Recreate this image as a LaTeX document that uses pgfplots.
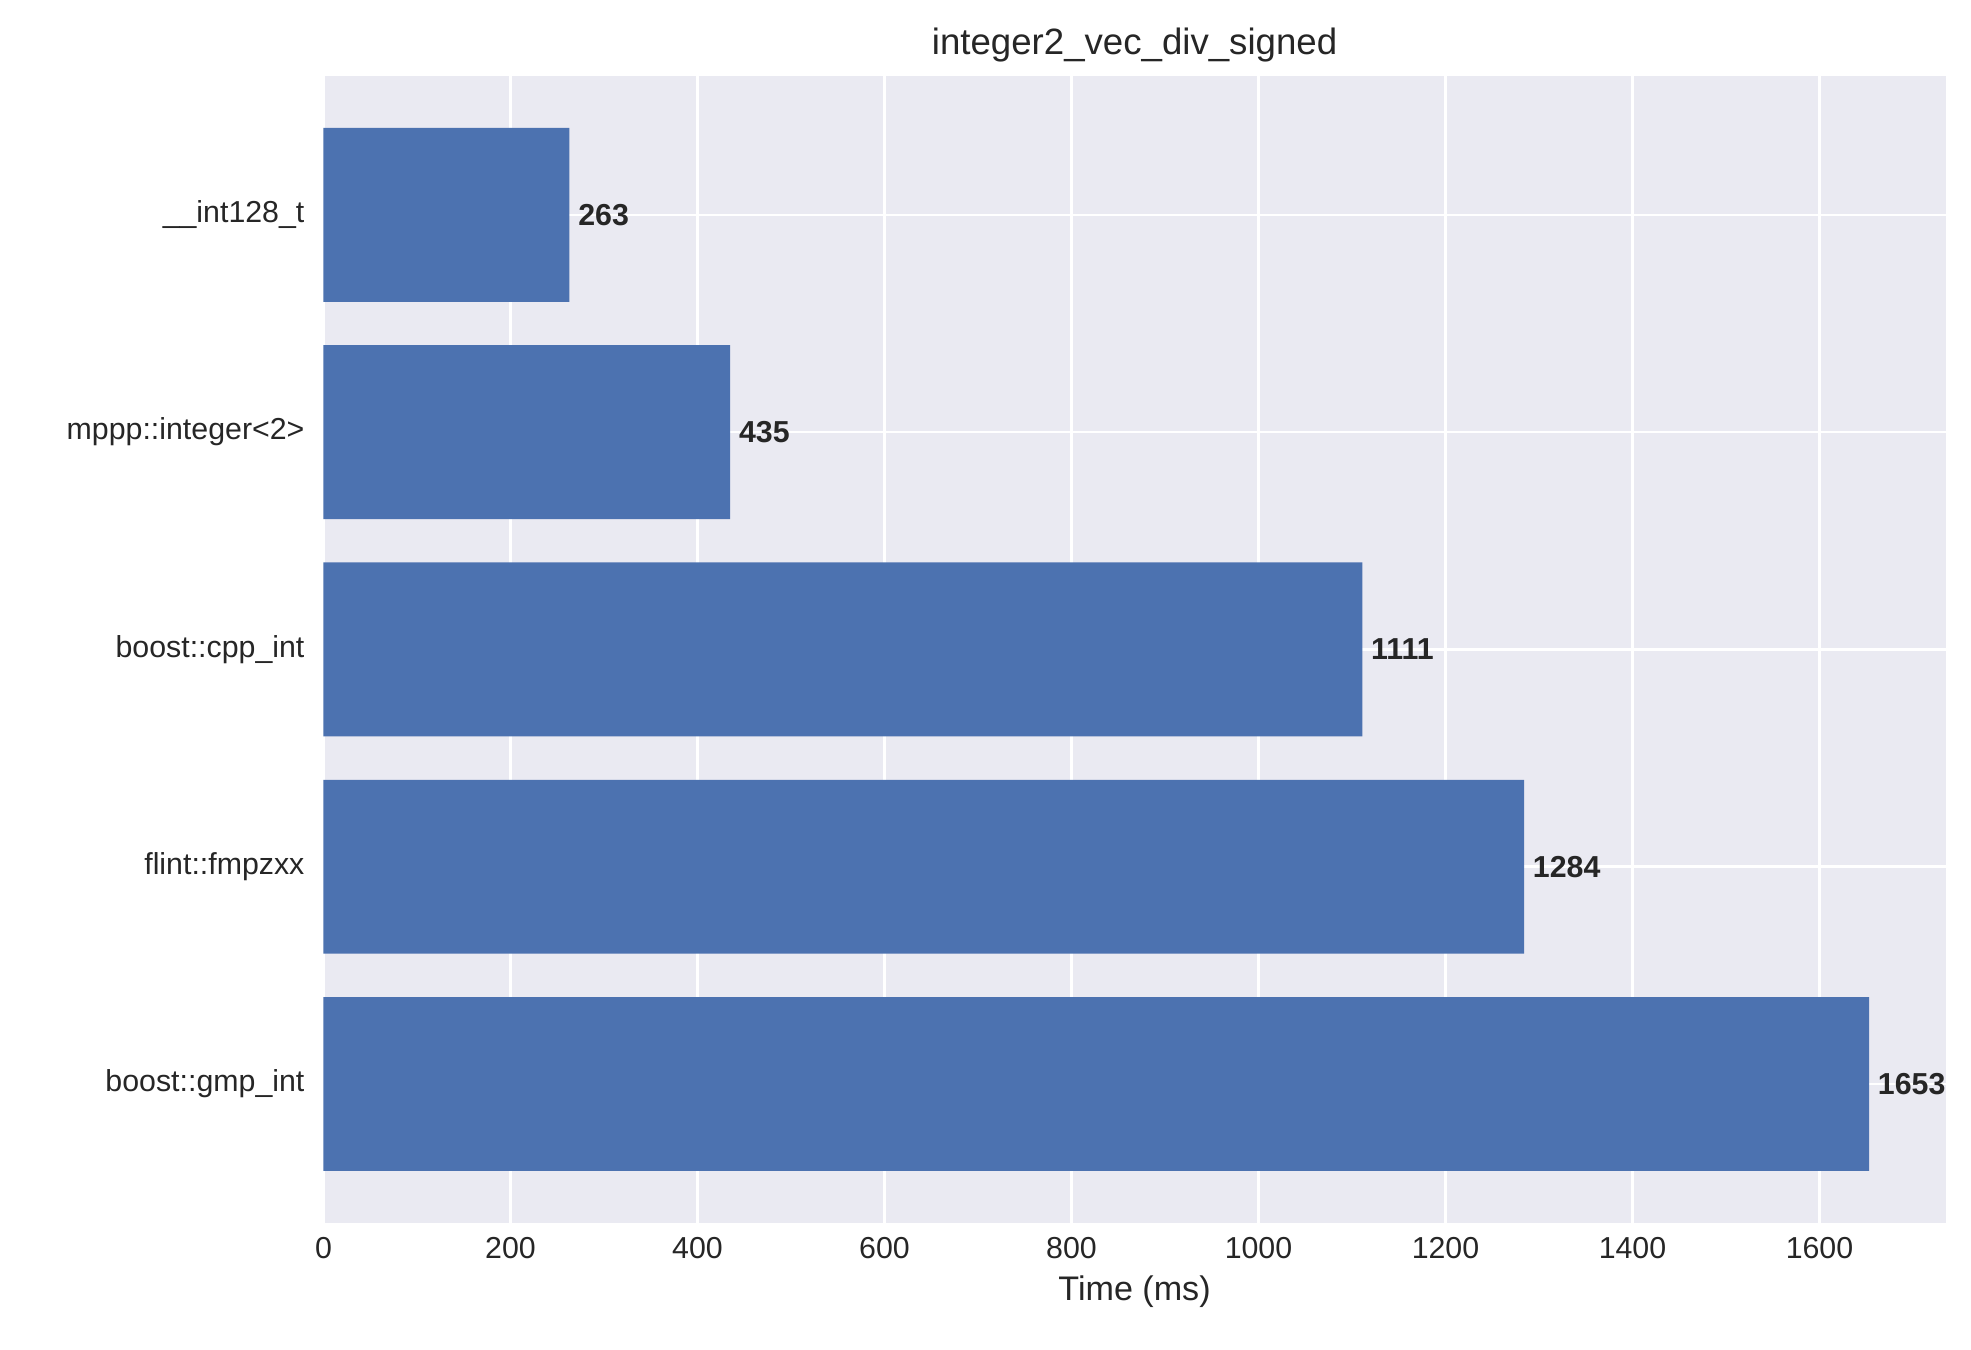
\documentclass[border=0pt]{standalone}
\usepackage{pgfplots}
\pgfplotsset{compat=1.18}
\usepackage{fontspec}
\setmainfont{Liberation Sans}
\definecolor{bg}{HTML}{EAEAF2}
\definecolor{bar}{HTML}{4C72B0}
\definecolor{txt}{HTML}{262626}
\begin{document}
\begin{tikzpicture}
\begin{axis}[
  scale only axis, width=642pt, height=454pt,
  xbar, bar width=0.8, bar shift=0pt,
  xmin=0, xmax=1735, ymin=-0.64, ymax=4.64,
  ytick={0,1,2,3,4},
  yticklabels={boost::gmp\_int,flint::fmpzxx,boost::cpp\_int,mppp::integer<2>,\_\_int128\_t},
  xtick={0,200,...,1600},
  /pgf/number format/assume math mode=true,
  /pgf/number format/set thousands separator={},
  axis background/.style={fill=bg},
  axis line style={draw=none},
  major tick length=0pt,
  grid=major, grid style={white, line width=1pt},
  axis on top=false,
  tick label style={font=\fontsize{12}{14}\selectfont, text=txt},
  xlabel={Time (ms)}, xlabel style={font=\fontsize{13.5}{16}\selectfont, text=txt},
  title={integer2\_vec\_div\_signed}, title style={font=\fontsize{14.5}{17}\selectfont, text=txt, yshift=-4pt},
  nodes near coords, nodes near coords align={horizontal},
  every node near coord/.append style={font=\bfseries\fontsize{12}{14}\selectfont, text=txt, anchor=west, xshift=0pt},
  yticklabel style={xshift=-4pt},
  xticklabel style={yshift=-2pt},
]
\addplot[fill=bar, draw=none] coordinates {(1653,0) (1284,1) (1111,2) (435,3) (263,4)};
\end{axis}
\pgfresetboundingbox
\path (current axis.south west) ++(-128pt,-50pt) rectangle ([shift={(10pt,30pt)}]current axis.north east);
\end{tikzpicture}
\end{document}
